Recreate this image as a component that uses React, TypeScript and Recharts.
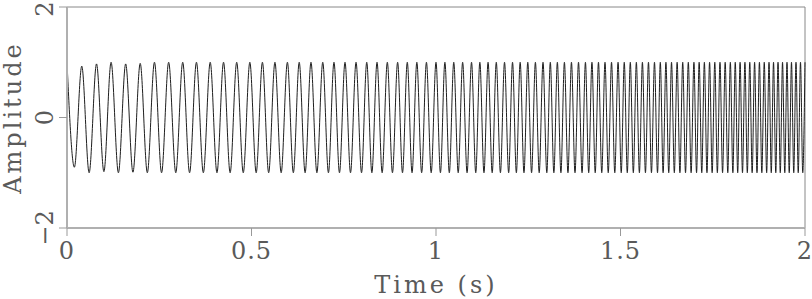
import { Label, Line, LineChart, ReferenceLine, XAxis, YAxis } from "recharts";

// times (s) of the crests and troughs of the chirp
const crestTimes = [
  0, 0.04, 0.08, 0.1195, 0.159, 0.1984, 0.237, 0.2755, 0.3136, 0.3508,
  0.3881, 0.4242, 0.4599, 0.4955, 0.5296, 0.5635, 0.5973, 0.6293, 0.6612, 0.6931,
  0.7235, 0.7534, 0.7833, 0.8123, 0.8402, 0.8681, 0.896, 0.9222, 0.9481, 0.9741,
  1.0, 1.0241, 1.0481, 1.0722, 1.0963, 1.1188, 1.1411, 1.1634, 1.1857, 1.2074,
  1.2281, 1.2487, 1.2694, 1.29, 1.3098, 1.3289, 1.348, 1.3671, 1.3862, 1.405,
  1.4226, 1.4403, 1.458, 1.4757, 1.4934, 1.5102, 1.5266, 1.543, 1.5594, 1.5758,
  1.5921, 1.6079, 1.6231, 1.6383, 1.6535, 1.6686, 1.6838, 1.699, 1.7132, 1.7273,
  1.7414, 1.7555, 1.7696, 1.7837, 1.7977, 1.811, 1.8241, 1.8372, 1.8503, 1.8634,
  1.8765, 1.8896, 1.9025, 1.9147, 1.9269, 1.9391, 1.9512, 1.9634, 1.9756, 1.9878,
  2.0,
];

const troughTimes = [
  0.02, 0.06, 0.1, 0.1393, 0.1787, 0.2177, 0.2563, 0.2948, 0.3322, 0.3695,
  0.4064, 0.4421, 0.4777, 0.5127, 0.5465, 0.5804, 0.6134, 0.6453, 0.6772, 0.7085,
  0.7384, 0.7683, 0.7982, 0.8262, 0.8541, 0.882, 0.9092, 0.9351, 0.9611, 0.987,
  1.012, 1.0361, 1.0602, 1.0842, 1.1077, 1.13, 1.1523, 1.1746, 1.1969, 1.2178,
  1.2384, 1.259, 1.2797, 1.3003, 1.3194, 1.3385, 1.3576, 1.3767, 1.3958, 1.4138,
  1.4315, 1.4492, 1.4668, 1.4845, 1.502, 1.5184, 1.5348, 1.5512, 1.5676, 1.5839,
  1.6003, 1.6155, 1.6307, 1.6459, 1.661, 1.6762, 1.6914, 1.7061, 1.7202, 1.7343,
  1.7484, 1.7625, 1.7766, 1.7907, 1.8045, 1.8176, 1.8306, 1.8437, 1.8568, 1.8699,
  1.883, 1.8961, 1.9086, 1.9208, 1.933, 1.9452, 1.9573, 1.9695, 1.9817, 1.9939,
];

// the first few extremes are a little short of full amplitude
const crestLevels = [1, 0.93, 0.97, 1, 0.97, 0.98, 1];
const troughLevels = [-0.9, -1, -0.98, -1, -0.99, -1];

const xTicks = [0, 0.5, 1, 1.5, 2];
const xTickLabels = ["0", "0.5", "1", "1.5", "2"];
const yTicks = [-2, 0, 2];
const yTickLabels = ["\u22122", "0", "2"];

const data = [
  ...crestTimes.map((t, i) => ({ t, amp: crestLevels[i] ?? 1 })),
  ...troughTimes.map((t, i) => ({ t, amp: troughLevels[i] ?? -1 })),
].sort((a, b) => a.t - b.t);

const font = "'DejaVu Serif', 'Liberation Serif', serif";
const ink = "#5a5a5a";

function XTick({ x, y, payload }: any) {
  const i = xTicks.indexOf(payload.value);
  return (
    <text x={x} y={y + 21} textAnchor="middle" fontFamily={font} fontSize={24} fill={ink} letterSpacing={1}>
      {xTickLabels[i]}
    </text>
  );
}

function YTick({ x, y, payload }: any) {
  const i = yTicks.indexOf(payload.value);
  const bx = x - 4;
  return (
    <text
      x={bx}
      y={y}
      transform={`rotate(-90, ${bx}, ${y})`}
      textAnchor="middle"
      fontFamily={font}
      fontSize={24}
      fill={ink}
    >
      {yTickLabels[i]}
    </text>
  );
}

export default function App() {
  return (
    <div style={{ position: "absolute", left: 0, top: 0, width: 812, height: 299, background: "#fff" }}>
      <LineChart width={812} height={299} data={data} margin={{ top: 7, right: 7, left: 0, bottom: 0 }}>
        <XAxis
          type="number"
          dataKey="t"
          domain={[0, 2]}
          ticks={xTicks}
          height={71}
          tickSize={8}
          axisLine={{ stroke: "#b0b0b0", strokeWidth: 2 }}
          tickLine={{ stroke: "#999" }}
          tick={<XTick />}
        >
          <Label
            content={({ viewBox }: any) => (
              <text
                x={viewBox.x + viewBox.width / 2}
                y={viewBox.y + viewBox.height - 6}
                textAnchor="middle"
                fontFamily={font}
                fontSize={24}
                fill={ink}
                letterSpacing={3}
              >
                Time (s)
              </text>
            )}
          />
        </XAxis>
        <YAxis
          type="number"
          domain={[-2, 2]}
          ticks={yTicks}
          width={67}
          tickSize={8}
          axisLine={{ stroke: "#b0b0b0", strokeWidth: 2 }}
          tickLine={{ stroke: "#999" }}
          tick={<YTick />}
        >
          <Label
            content={({ viewBox }: any) => {
              const lx = viewBox.x + 21;
              const ly = viewBox.y + viewBox.height / 2;
              return (
                <text
                  x={lx}
                  y={ly}
                  transform={`rotate(-90, ${lx}, ${ly})`}
                  textAnchor="middle"
                  fontFamily={font}
                  fontSize={24}
                  fill={ink}
                  letterSpacing={3}
                >
                  Amplitude
                </text>
              );
            }}
          />
        </YAxis>
        <ReferenceLine y={2} stroke="#888" />
        <ReferenceLine x={2} stroke="#888" />
        <Line
          type="monotone"
          dataKey="amp"
          stroke="#1e1e1e"
          strokeWidth={1}
          dot={false}
          isAnimationActive={false}
        />
      </LineChart>
    </div>
  );
}
